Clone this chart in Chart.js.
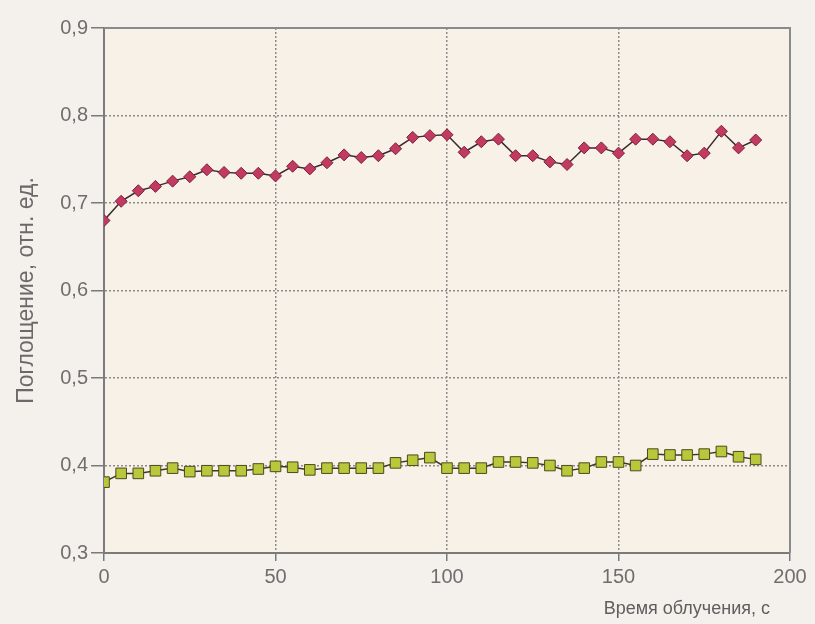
<!DOCTYPE html>
<html>
<head>
<meta charset="utf-8">
<script src="https://cdn.jsdelivr.net/npm/chart.js@4"></script>
<style>
  body { margin: 0; background: #f4f1ec; }
  #wrap { width: 815px; height: 624px; }
</style>
</head>
<body>
<div id="wrap"><canvas id="chart" width="815" height="624"></canvas></div>
<script>
const times = [0, 5, 10, 15, 20, 25, 30, 35, 40, 45, 50, 55, 60, 65, 70, 75, 80, 85, 90, 95,
  100, 105, 110, 115, 120, 125, 130, 135, 140, 145, 150, 155, 160, 165, 170, 175, 180, 185, 190]
const upper = [0.680, 0.702, 0.714, 0.719, 0.725, 0.730, 0.738, 0.735, 0.734, 0.734,
  0.731, 0.742, 0.739, 0.746, 0.755, 0.752, 0.754, 0.762, 0.775, 0.777,
  0.778, 0.758, 0.770, 0.773, 0.754, 0.754, 0.747, 0.744, 0.763, 0.763,
  0.757, 0.773, 0.773, 0.770, 0.754, 0.757, 0.782, 0.763, 0.772]
const lower = [0.381, 0.391, 0.391, 0.394, 0.397, 0.393, 0.394, 0.394, 0.394, 0.396,
  0.399, 0.398, 0.395, 0.397, 0.397, 0.397, 0.397, 0.403, 0.406, 0.409,
  0.397, 0.397, 0.397, 0.404, 0.404, 0.403, 0.400, 0.394, 0.397, 0.404,
  0.404, 0.400, 0.413, 0.412, 0.412, 0.413, 0.416, 0.410, 0.407]
const xTicks = [0, 50, 100, 150, 200]
const yTicks = [0.3, 0.4, 0.5, 0.6, 0.7, 0.8, 0.9]
const xTitle = "Время облучения, с"
const yTitle = "Поглощение, отн. ед."

const toPoints = (ys) => times.map((t, i) => ({ x: t, y: ys[i] }))
const family = "'Liberation Sans', Arial, sans-serif"

// background, solid top/right frame and the x title (right-aligned short of the axis end)
const frame = {
  id: "frame",
  beforeDraw(chart) {
    const { ctx, chartArea: a } = chart
    ctx.save()
    ctx.fillStyle = "#f4f1ec"
    ctx.fillRect(0, 0, chart.width, chart.height)
    ctx.fillStyle = "#f8f1e7"
    ctx.fillRect(a.left, a.top, a.right - a.left, a.bottom - a.top)
    ctx.restore()
  },
  afterDatasetsDraw(chart) {
    const { ctx, chartArea: a } = chart
    ctx.save()
    ctx.strokeStyle = "#8a8a8a"
    ctx.lineWidth = 2
    ctx.beginPath()
    ctx.moveTo(a.left, a.top)
    ctx.lineTo(a.right, a.top)
    ctx.lineTo(a.right, a.bottom)
    ctx.stroke()
    ctx.fillStyle = "#5e5e5e"
    ctx.font = "18px " + family
    ctx.textAlign = "right"
    ctx.textBaseline = "middle"
    ctx.fillText(xTitle, a.right - 20, 609)
    ctx.restore()
  },
}

new Chart(document.getElementById("chart"), {
  type: "scatter",
  data: {
    datasets: [
      {
        data: toPoints(upper),
        showLine: true,
        borderColor: "#3a2a2e",
        borderWidth: 1.5,
        pointStyle: "rectRot",
        pointRadius: 6,
        pointBackgroundColor: "#c23a60",
        pointBorderColor: "#7d2040",
        pointBorderWidth: 1,
      },
      {
        data: toPoints(lower),
        showLine: true,
        borderColor: "#3a3a22",
        borderWidth: 1.5,
        pointStyle: "rect",
        pointRadius: 7.5,
        pointBackgroundColor: "#b8c83a",
        pointBorderColor: "#4a4a1c",
        pointBorderWidth: 1,
      },
    ],
  },
  options: {
    responsive: false,
    animation: false,
    layout: { padding: { left: 0, right: 25, top: 28, bottom: 0 } },
    plugins: { legend: { display: false }, tooltip: { enabled: false } },
    scales: {
      x: {
        type: "linear",
        min: 0,
        max: 200,
        afterBuildTicks: (s) => { s.ticks = xTicks.map((v) => ({ value: v })) },
        afterFit: (s) => { s.height = 71 },
        grid: { color: "#8c8c8c", lineWidth: 1.5, tickLength: 8, tickColor: "#7a7a7a", tickWidth: 1.5 },
        border: { color: "#7a7a7a", width: 2, dash: [2, 2] },
        ticks: { color: "#6e6e6e", font: { family, size: 20 }, padding: 4 },
      },
      y: {
        min: 0.3,
        max: 0.9,
        afterBuildTicks: (s) => { s.ticks = yTicks.map((v) => ({ value: v })) },
        afterFit: (s) => { s.width = 104 },
        grid: { color: "#8c8c8c", lineWidth: 1.5, tickLength: 13, tickColor: "#7a7a7a", tickWidth: 1.5 },
        border: { color: "#7a7a80", width: 2, dash: [2, 2] },
        ticks: {
          color: "#6e6e6e",
          font: { family, size: 20 },
          padding: 3,
          callback: (v) => v.toFixed(1).replace(".", ","),
        },
        title: {
          display: true,
          text: yTitle,
          color: "#6a6a6a",
          font: { family, size: 23 },
          padding: { top: 13, bottom: 0 },
        },
      },
    },
  },
  plugins: [frame],
})
</script>
</body>
</html>
